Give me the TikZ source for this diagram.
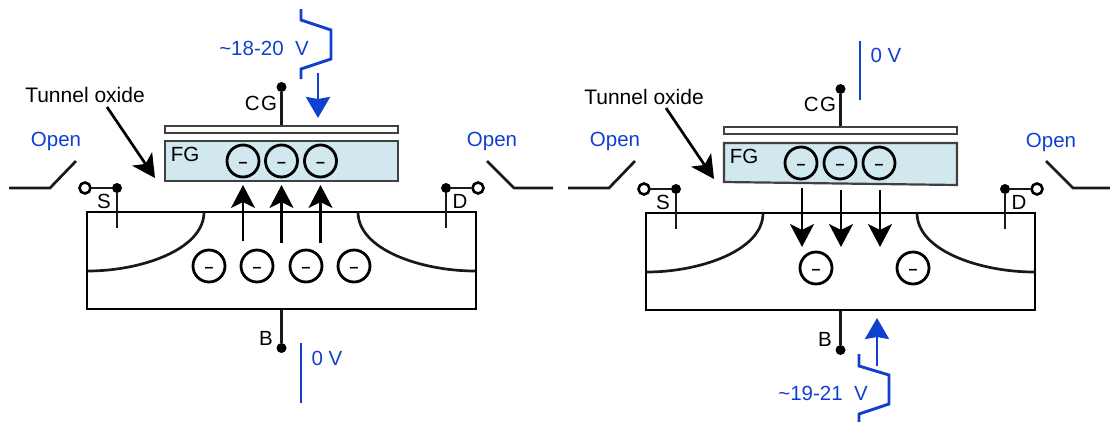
\documentclass[tikz,border=0pt]{standalone}
\usepackage{fontspec}
\setmainfont{Liberation Sans}
\usetikzlibrary{arrows.meta}
\definecolor{voltblue}{RGB}{16,64,208}
\definecolor{fgblue}{RGB}{208,232,238}
\tikzset{
    lbl/.style={inner sep=0pt, font=\fontsize{20.5}{24}\selectfont},
    biglbl/.style={inner sep=0pt, font=\fontsize{21}{24}\selectfont},
    bluelbl/.style={lbl, text=voltblue},
    wire/.style={line width=2.7pt, draw=black!90},
    bluewire/.style={line width=2.9pt, draw=voltblue},
    bigarrow/.style={line width=2.7pt, -{Stealth[length=23pt,width=24pt,inset=6pt]}},
    bluearrow/.style={line width=2.7pt, draw=voltblue, -{Stealth[length=21pt,width=24pt,inset=2pt]}},
    electron/.style={circle, draw, line width=2.8pt, minimum size=32pt, inner sep=0pt, text height=13pt, text depth=0pt, font=\fontsize{16}{20}\selectfont\bfseries},
    pin/.style={circle, fill=black, minimum size=10pt, inner sep=0pt},
    openpin/.style={circle, draw, fill=white, line width=2.6pt, minimum size=11pt, inner sep=0pt},
    plate/.style={draw=black!75, line width=2.2pt, fill=white, minimum width=233pt, minimum height=6.5pt, inner sep=0pt},
    floatgate/.style={draw=black!75, line width=2.2pt, fill=fgblue, minimum width=233pt, minimum height=40pt, inner sep=0pt},
    body/.style={draw, line width=2.7pt, minimum width=389pt, minimum height=97pt, inner sep=0pt}
}
\begin{document}
\begin{tikzpicture}[x=1pt, y=-1pt]
    \useasboundingbox (0,0) rectangle (1110,421);
    % left: programming
    \node[body] (subL) at (281.5,260.5) {};
    \node[plate] (cpL) at (281.5,129.5) {};
    \node[floatgate] (fgL) at (281.5,161) {};
    \node[lbl] at (185,154) {FG};
    \node[electron] (fa) at (243,161) {–};
    \node[electron] (fb) at (281.5,161) {–};
    \node[electron] (fc) at (320.5,161) {–};
    \node[electron] (ea) at (209,266) {–};
    \node[electron] (eb) at (257,266) {–};
    \node[electron] (ec) at (306,266) {–};
    \node[electron] (ed) at (354,266) {–};
    \node[pin] (cgL) at (281.5,87) {};
    \node[pin] (bL) at (281.5,348) {};
    \node[pin] (sL) at (117,188) {};
    \node[pin] (dL) at (446,188) {};
    \node[openpin] (soL) at (85,188) {};
    \node[openpin] (doL) at (478,188) {};
    \node[lbl] at (261,103) {C\kern1.5pt G};
    \node[lbl] at (266,338) {B};
    \node[lbl] at (104,201) {S};
    \node[lbl] at (460,201) {D};
    \node[biglbl] (toL) at (85,95) {Tunnel oxide};
    \node[bluelbl] at (56,141) {Open};
    \node[bluelbl] at (492,141) {Open};
    \node[bluelbl] at (264,48) {\textasciitilde 18-20\ \ V};
    \node[bluelbl] at (327,358) {0 V};
    \coordinate (sendL) at (117,228);
    \coordinate (dendL) at (446,228);
    \coordinate (wsaL) at (204,212);
    \coordinate (wsbL) at (88,271);
    \coordinate (wdaL) at (358,212);
    \coordinate (wdbL) at (475,271);
    \coordinate (toaL) at (107,107);
    \coordinate (tobL) at (155,178);
    \draw[wire] (cgL) to (cpL);
    \draw[wire] (bL) to (subL);
    \draw[wire] (soL) to (sL);
    \draw[wire] (doL) to (dL);
    \draw[wire] (sL) to (sendL);
    \draw[wire] (dL) to (dendL);
    \draw[wire] (wsaL) .. controls (204,250) and (140,271) .. (wsbL);
    \draw[wire] (wdaL) .. controls (358,250) and (422,271) .. (wdbL);
    \draw[bigarrow] (toaL) to (tobL);
    \draw[bigarrow] (243,241) to (243,185);
    \draw[bigarrow] (281.5,243) to (281.5,185);
    \draw[bigarrow] (320.5,243) to (320.5,185);
    \draw[wire] (9,188) -- (50,188) -- (76,161);
    \draw[wire] (487,161) -- (514,188) -- (553,188);
    \draw[bluewire] (301,9) -- (301,20) -- (331,30) -- (331,59) -- (301,69) -- (301,79);
    \draw[bluearrow] (318,73) to (318,118);
    \draw[bluewire] (301,343) -- (301,403);
    % right: erasing
    \node[body] (subR) at (840.5,261.5) {};
    \node[plate] (cpR) at (840.5,130.5) {};
    \coordinate (fgaR) at (724,143);
    \coordinate (fgbR) at (957,143);
    \coordinate (fgcR) at (957,185);
    \coordinate (fgdR) at (724,182);
    \draw[draw=black!75, line width=2.2pt, fill=fgblue] (fgaR) -- (fgbR) -- (fgcR) -- (fgdR) -- cycle;
    \node[lbl] at (744,156) {FG};
    \node[electron] (ga) at (801,163) {–};
    \node[electron] (gb) at (840,163) {–};
    \node[electron] (gc) at (879,163) {–};
    \node[electron] (ha) at (816,268) {–};
    \node[electron] (hb) at (913,268) {–};
    \node[pin] (cgR) at (840.5,89) {};
    \node[pin] (bR) at (840.5,350) {};
    \node[pin] (sR) at (676,189) {};
    \node[pin] (dR) at (1005,189) {};
    \node[openpin] (soR) at (644,189) {};
    \node[openpin] (doR) at (1037,189) {};
    \node[lbl] at (820,104) {C\kern1.5pt G};
    \node[lbl] at (825,339) {B};
    \node[lbl] at (663,202) {S};
    \node[lbl] at (1019,202) {D};
    \node[biglbl] (toR) at (644,97) {Tunnel oxide};
    \node[bluelbl] at (615,141) {Open};
    \node[bluelbl] at (1051,142) {Open};
    \node[bluelbl] at (823,393) {\textasciitilde 19-21\ \ V};
    \node[bluelbl] at (886,55) {0 V};
    \coordinate (sendR) at (676,229);
    \coordinate (dendR) at (1005,229);
    \coordinate (wsaR) at (763,213);
    \coordinate (wsbR) at (647,272);
    \coordinate (wdaR) at (917,213);
    \coordinate (wdbR) at (1034,272);
    \coordinate (toaR) at (666,108);
    \coordinate (tobR) at (714,179);
    \draw[wire] (cgR) to (cpR);
    \draw[wire] (bR) to (subR);
    \draw[wire] (soR) to (sR);
    \draw[wire] (doR) to (dR);
    \draw[wire] (sR) to (sendR);
    \draw[wire] (dR) to (dendR);
    \draw[wire] (wsaR) .. controls (763,251) and (699,272) .. (wsbR);
    \draw[wire] (wdaR) .. controls (917,251) and (981,272) .. (wdbR);
    \draw[bigarrow] (toaR) to (tobR);
    \draw[bigarrow] (802,188) to (802,247);
    \draw[bigarrow] (841,190) to (841,247);
    \draw[bigarrow] (880,190) to (880,247);
    \draw[wire] (568,188) -- (609,188) -- (635,161);
    \draw[wire] (1046,161) -- (1073,188) -- (1112,188);
    \draw[bluewire] (859,354) -- (859,366) -- (889,375) -- (889,404) -- (859,414) -- (859,425);
    \draw[bluearrow] (877,366) to (877,318);
    \draw[bluewire] (860,41) -- (860,100);
\end{tikzpicture}
\end{document}
